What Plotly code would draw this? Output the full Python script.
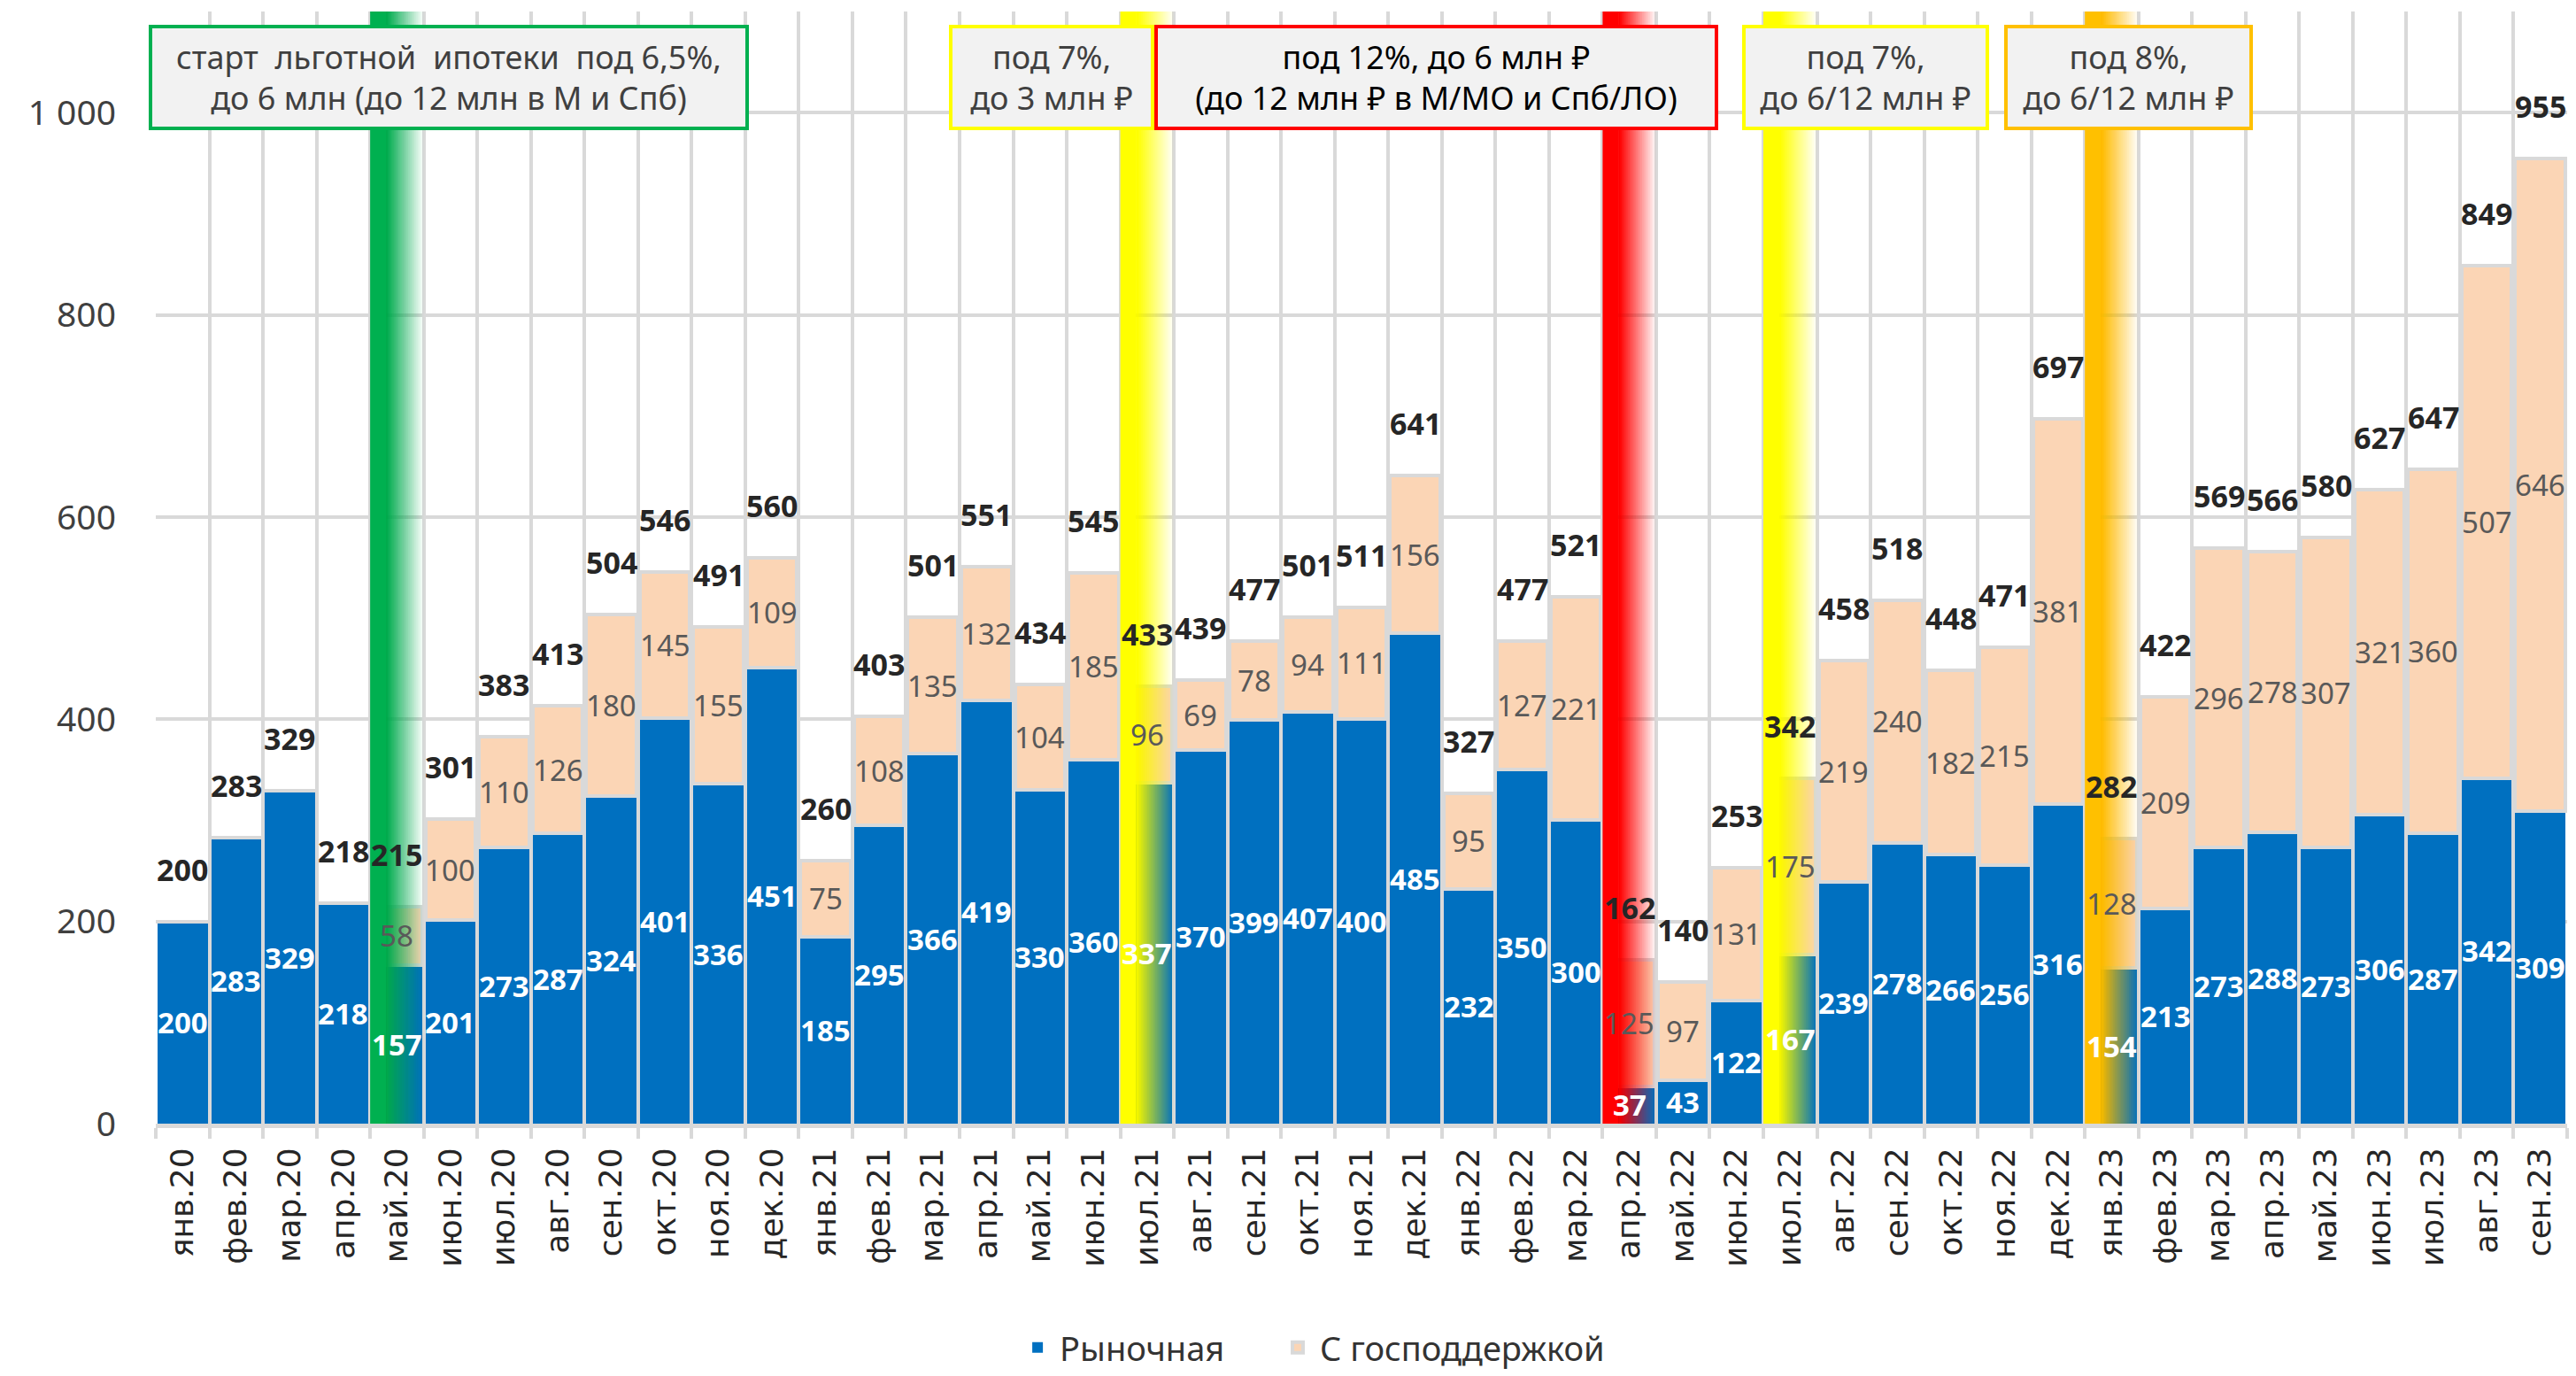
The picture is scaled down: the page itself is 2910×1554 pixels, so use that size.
import plotly.graph_objects as go

# ---------------- data ----------------
months = ["янв.20", "фев.20", "мар.20", "апр.20", "май.20", "июн.20", "июл.20", "авг.20", "сен.20",
          "окт.20", "ноя.20", "дек.20", "янв.21", "фев.21", "мар.21", "апр.21", "май.21", "июн.21",
          "июл.21", "авг.21", "сен.21", "окт.21", "ноя.21", "дек.21", "янв.22", "фев.22", "мар.22",
          "апр.22", "май.22", "июн.22", "июл.22", "авг.22", "сен.22", "окт.22", "ноя.22", "дек.22",
          "янв.23", "фев.23", "мар.23", "апр.23", "май.23", "июн.23", "июл.23", "авг.23", "сен.23"]

market = [200, 283, 329, 218, 157, 201, 273, 287, 324, 401, 336, 451, 185, 295, 366, 419, 330, 360,
          337, 370, 399, 407, 400, 485, 232, 350, 300, 37, 43, 122, 167, 239, 278, 266, 256, 316,
          154, 213, 273, 288, 273, 306, 287, 342, 309]

gov = [0, 0, 0, 0, 58, 100, 110, 126, 180, 145, 155, 109, 75, 108, 135, 132, 104, 185,
       96, 69, 78, 94, 111, 156, 95, 127, 221, 125, 97, 131, 175, 219, 240, 182, 215, 381,
       128, 209, 296, 278, 307, 321, 360, 507, 646]

totals = [200, 283, 329, 218, 215, 301, 383, 413, 504, 546, 491, 560, 260, 403, 501, 551, 434, 545,
          433, 439, 477, 501, 511, 641, 327, 477, 521, 162, 140, 253, 342, 458, 518, 448, 471, 697,
          282, 422, 569, 566, 580, 627, 647, 849, 955]

series_names = ["Рыночная", "С господдержкой"]

y_tickvals = [0, 200, 400, 600, 800, 1000]
y_ticktext = ["0", "200", "400", "600", "800", "1 000"]

# policy change markers (month, colour)
band_months = ["май.20", "июл.21", "апр.22", "июл.22", "янв.23"]
band_colors = ["0,176,80", "255,255,0", "255,0,0", "255,255,0", "255,192,0"]

# callout boxes: text, anchor month, border colour, text colour
box_texts = ["старт  льготной  ипотеки  под 6,5%,<br>до 6 млн (до 12 млн в М и Спб)",
             "под 7%,<br>до 3 млн ₽",
             "под 12%, до 6 млн ₽<br>(до 12 млн ₽ в М/МО и Спб/ЛО)",
             "под 7%,<br>до 6/12 млн ₽",
             "под 8%,<br>до 6/12 млн ₽"]
box_months = ["май.20", "май.21", "дек.21", "авг.22", "янв.23"]
box_offsets = [0.975, 0.22, 0.39, 0.40, 0.32]
box_widths = [670, 224, 629, 271, 273]
box_borders = ["#00B050", "#FFFF00", "#FF0000", "#FFFF00", "#FFC000"]
box_fontcolors = ["#404040", "#404040", "#000000", "#404040", "#404040"]

# ---------------- styling ----------------
BLUE = "#0070C0"
PEACH = "#FBD5B5"
GRID = "#D9D9D9"
FONT = "Noto Sans"

fig = go.Figure()
fig.add_trace(go.Bar(x=months, y=market, name=series_names[0], legend="legend",
                     marker=dict(color=BLUE, line=dict(width=0)), hoverinfo="x+y"))
fig.add_trace(go.Bar(x=months, y=gov, name=series_names[1], legend="legend2",
                     marker=dict(color=PEACH, line=dict(color=GRID, width=4)), hoverinfo="x+y"))

annotations = []
for i, m in enumerate(months):
    annotations.append(dict(x=m, y=market[i] / 2, text=str(market[i]), showarrow=False,
                            font=dict(family=FONT, size=33, color="white", weight="bold"),
                            xref="x", yref="y"))
    if gov[i] > 0:
        annotations.append(dict(x=m, y=market[i] + gov[i] / 2, text=str(gov[i]), showarrow=False,
                                font=dict(family=FONT, size=33, color="#595959"),
                                xref="x", yref="y"))
    annotations.append(dict(x=m, y=totals[i], text=str(totals[i]), showarrow=False, yshift=59,
                            font=dict(family=FONT, size=34, color="#262626", weight="bold"),
                            xref="x", yref="y"))

for t, bm, off, w, bc, fc in zip(box_texts, box_months, box_offsets, box_widths, box_borders, box_fontcolors):
    annotations.append(dict(x=months.index(bm) + off, y=1035, xref="x", yref="y", text=t, showarrow=False,
                            width=w, height=111, align="center", valign="middle",
                            bgcolor="#F2F2F2", bordercolor=bc, borderwidth=4, borderpad=0,
                            font=dict(family=FONT, size=36, color=fc)))

# gradient bands (solid at left, fading to transparent at right)
shapes = []
N = 24
solid = 0.3
for bm, col in zip(band_months, band_colors):
    c = months.index(bm)
    L = c - 0.5
    edges = [L + solid + (1 - solid) * k / N for k in range(N + 1)]
    alphas = [1 - (j + 0.5) / N for j in range(N)]
    trans = [1 - a for a in alphas] + [1.0]
    shapes.append(dict(type="rect", xref="x", yref="y", x0=L, x1=edges[0], y0=0, y1=1100,
                       fillcolor=f"rgba({col},1)", line=dict(width=0), layer="above"))
    for j in range(N):
        a_j = 1 - trans[j] / trans[j + 1]
        shapes.append(dict(type="rect", xref="x", yref="y", x0=edges[0] - 0.001, x1=edges[j + 1],
                           y0=0, y1=1100, fillcolor=f"rgba({col},{a_j:.4f})", line=dict(width=0),
                           layer="above"))

legend_style = dict(orientation="h", xanchor="left", y=-0.2265, yanchor="bottom",
                    font=dict(family=FONT, size=38, color="#333333"), itemwidth=40,
                    bgcolor="rgba(0,0,0,0)")

fig.update_layout(
    width=2902, height=1546,
    margin=dict(l=168, r=10, t=5, b=285, autoexpand=False),
    paper_bgcolor="white", plot_bgcolor="white",
    barmode="stack", bargap=0.066,
    font=dict(family=FONT, color="#404040"),
    showlegend=True,
    legend=dict(x=0.3565, **legend_style),
    legend2=dict(x=0.4644, **legend_style),
    annotations=annotations,
    shapes=shapes,
)
fig.update_xaxes(type="category", tickson="boundaries", showgrid=True, gridcolor=GRID, gridwidth=4,
                 showline=True, linecolor=GRID, linewidth=5, ticks="outside", ticklen=12,
                 tickwidth=4, tickcolor=GRID, tickangle=-90,
                 tickfont=dict(family="DejaVu Sans", size=36, color="#262626"),
                 ticklabelstandoff=8, automargin=False,
                 range=[-0.5, len(months) - 0.5])
fig.update_yaxes(range=[0, 1100], tickvals=y_tickvals, ticktext=y_ticktext, showgrid=True,
                 gridcolor=GRID, gridwidth=4, zeroline=False, showline=False, ticks="",
                 tickfont=dict(family=FONT, size=39, color="#404040"), ticklabelstandoff=44,
                 automargin=False)

fig.write_html("out.html")
